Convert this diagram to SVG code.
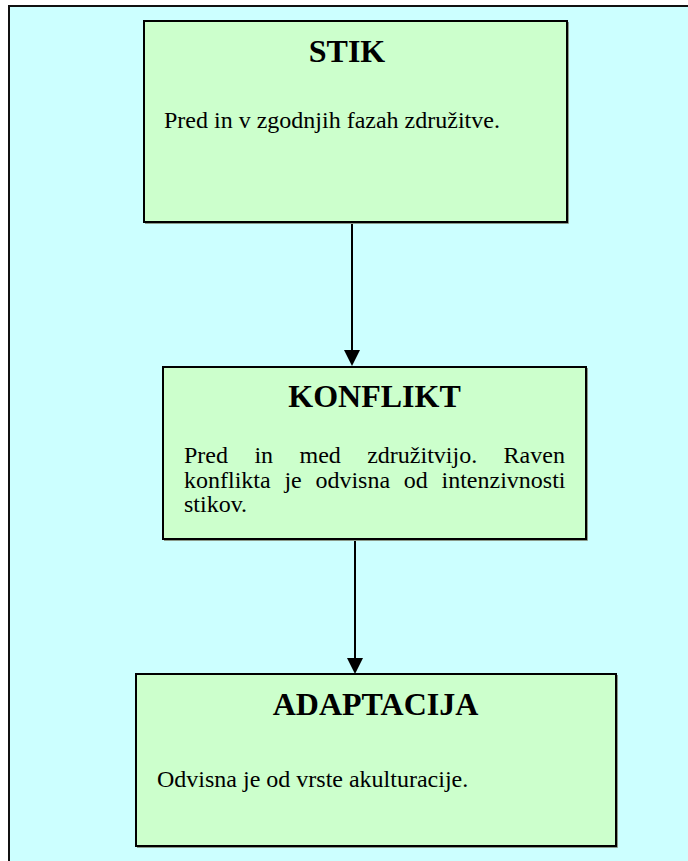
<svg xmlns="http://www.w3.org/2000/svg" width="688" height="861" viewBox="0 0 688 861">
  <style>
    .frame { fill: #CCFFFF; stroke: #111; stroke-width: 2; }
    .box { fill: #CCFFCC; stroke: #000; stroke-width: 2; }
    .shadow { fill: none; stroke: #8a9a8a; stroke-width: 1; }
    .title { font-family: "Liberation Serif", "Times New Roman", serif; font-size: 32px; font-weight: bold; fill: #000; text-anchor: middle; }
    .body { font-family: "Liberation Serif", "Times New Roman", serif; font-size: 24px; fill: #000; }
    .conn { stroke: #000; stroke-width: 2; fill: none; }
  </style>
  <defs>
    <marker id="arrow" viewBox="0 0 16 15" refX="8" refY="15" markerWidth="16" markerHeight="15" markerUnits="userSpaceOnUse" orient="auto-start-reverse">
      <path d="M0,0 L16,0 L8,15 Z" fill="#000"/>
    </marker>
  </defs>

  <!-- page background and frame -->
  <rect class="frame" x="9" y="6" width="700" height="880"/>

  <!-- connectors -->
  <g id="connectors">
    <line class="conn" x1="352" y1="222" x2="352" y2="350"/>
    <path d="M344,350 L360,350 L352,366 Z" fill="#000"/>
    <line class="conn" x1="355" y1="539" x2="355" y2="658"/>
    <path d="M347,658 L363,658 L355,674 Z" fill="#000"/>
  </g>

  <g id="stik">
    <polyline class="shadow" points="568.5,22 568.5,223.5 145,223.5"/>
    <rect class="box" x="144" y="21" width="423" height="201"/>
    <text class="title" x="347" y="62">STIK</text>
    <text class="body" x="164" y="128">Pred in v zgodnjih fazah združitve.</text>
  </g>

  <g id="konflikt">
    <polyline class="shadow" points="587.5,368 587.5,540.5 164,540.5"/>
    <rect class="box" x="163" y="367" width="423" height="172"/>
    <text class="title" x="374.5" y="407">KONFLIKT</text>
    <text class="body" y="463"><tspan x="184">Pred</tspan><tspan x="254.4">in</tspan><tspan x="299.5">med</tspan><tspan x="367.2">združitvijo.</tspan><tspan x="503.6">Raven</tspan></text>
    <text class="body" y="488"><tspan x="184">konflikta</tspan><tspan x="284.4">je</tspan><tspan x="315.4">odvisna</tspan><tspan x="403.8">od</tspan><tspan x="441.5">intenzivnosti</tspan></text>
    <text class="body" x="184" y="512">stikov.</text>
  </g>

  <g id="adaptacija">
    <polyline class="shadow" points="617.5,675 617.5,847.5 137,847.5"/>
    <rect class="box" x="136" y="674" width="480" height="172"/>
    <text class="title" x="375.5" y="715">ADAPTACIJA</text>
    <text class="body" x="157" y="787">Odvisna je od vrste akulturacije.</text>
  </g>
</svg>
